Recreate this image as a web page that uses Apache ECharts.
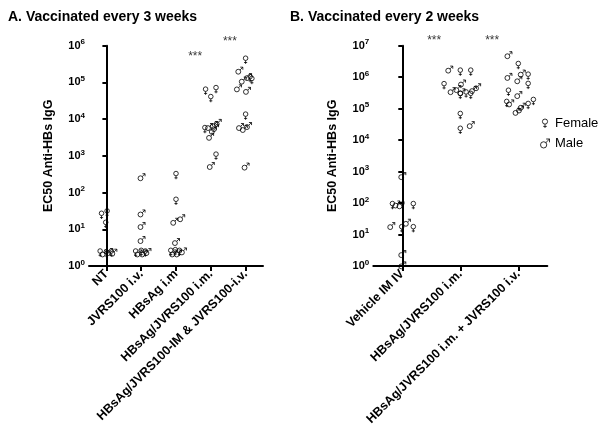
<!DOCTYPE html>
<html><head><meta charset="utf-8">
<script src="https://cdn.jsdelivr.net/npm/echarts@6/dist/echarts.min.js"></script>
<style>html,body{margin:0;padding:0;background:#fff}#c{width:600px;height:437px}</style>
</head><body><div id="c"></div>
<script>
// categories
const catsA = ['NT','JVRS100 i.v.','HBsAg i.m','HBsAg/JVRS100 i.m.','HBsAg/JVRS100-IM & JVRS100-i.v.'];
const catsB = ['Vehicle IM IV','HBsAg/JVRS100 i.m.','HBsAg/JVRS100 i.m. + JVRS100 i.v.'];
// [category index, horizontal spread (category units), EC50]
const femaleA = [
  [0,-0.14,24.5],[0,0.02,28.4],[0,-0.02,13.9],[0,-0.18,2.3],[0,0.0,2.2],[0,0.14,2.3],
  [1,-0.16,2.3],[1,0.0,2.4],[1,0.12,2.3],
  [2,0.0,296],[2,0.0,59],[2,-0.15,2.4],[2,-0.02,2.5],[2,0.1,2.4],
  [3,-0.15,58900],[3,0.15,65000],[3,0.0,37000],[3,-0.17,5300],[3,0.15,1000],
  [4,0.0,410000],[4,0.13,130000],[4,0.18,115000],[4,0.0,12300]
];
const maleA = [
  [0,-0.08,2.2],[0,0.08,2.4],[0,0.2,2.3],
  [1,0.01,262],[1,0.01,27],[1,0.01,12.3],[1,0.01,5.1],[1,-0.08,2.2],[1,0.06,2.2],[1,0.18,2.4],
  [2,-0.05,16],[2,0.15,20],[2,0.0,4.5],[2,-0.08,2.2],[2,0.05,2.2],[2,0.2,2.5],
  [3,-0.05,6100],[3,0.09,6900],[3,0.2,7900],[3,0.12,5700],[3,-0.02,3300],[3,0.06,4800],[3,0.0,530],
  [4,-0.18,209000],[4,0.07,140000],[4,-0.08,112000],[4,-0.22,69000],[4,0.04,59000],[4,-0.16,6100],[4,-0.05,5400],[4,0.07,6500],[4,0.0,510]
];
const femaleB = [
  [0,-0.17,85],[0,0.19,85],[0,-0.01,15.7],[0,0.19,15.7],
  [1,0.0,1.48e6],[1,0.18,1.48e6],[1,-0.28,5.5e5],[1,0.0,2.7e5],[1,0.1,3.0e5],[1,0.18,2.7e5],[1,0.0,6.2e4],[1,0.0,2.1e4],
  [2,0.0,2.4e6],[2,0.17,1.1e6],[2,0.17,5.6e5],[2,-0.17,3.4e5],[2,-0.2,1.5e5],[2,0.17,1.29e5],[2,0.26,1.73e5]
];
const maleB = [
  [0,0.0,720],[0,-0.03,85],[0,-0.1,90],[0,-0.19,18.6],[0,0.08,23.7],[0,0.0,2.4],[0,0.0,1.05],
  [1,-0.19,1.74e6],[1,-0.15,3.6e5],[1,-0.05,4.2e5],[1,0.03,6.3e5],[1,0.02,3.3e5],[1,0.22,3.9e5],[1,0.29,4.8e5],[1,0.18,3.0e4],
  [2,-0.17,5.0e6],[2,-0.17,1.02e6],[2,0.0,8.0e5],[2,0.06,1.3e6],[2,0.0,2.7e5],[2,-0.14,1.47e5],[2,0.06,1.15e5],[2,-0.03,7.9e4],[2,0.03,9.4e4]
];
// significance annotations: [category index, height]
const starsA = [[3,5.0e5],[4,1.3e6]];
const starsB = [[1,1.4e7],[2,1.4e7]];
const yMaxA = 1e6, yMaxB = 1e7;
const titleA = 'A. Vaccinated every 3 weeks';
const titleB = 'B. Vaccinated every 2 weeks';
const yName = 'EC50 Anti-HBs IgG';

const FONT = '"Liberation Sans", Arial, sans-serif';
const femalePath = 'path://M8.2,4A3.2,3.2,0,1,1,1.8,4A3.2,3.2,0,1,1,8.2,4M5,7.2L5,12M2.8,10L7.2,10';
const malePath = 'path://M7.2,8A3.2,3.2,0,1,1,0.8,8A3.2,3.2,0,1,1,7.2,8M6.3,5.7L10,2M6.6,2L10,2L10,5.4';
const pts = arr => arr.map(d => [d[0] + d[1], d[2]]);
const STAR_SHIFT = -0.45;

const chart = echarts.init(document.getElementById('c'), null, {renderer:'canvas'});

function yAxis(gi, max) {
  return {
    type:'log', logBase:10, gridIndex:gi, min:1, max:max, splitNumber: Math.round(Math.log10(max)),
    axisLine:{show:true, lineStyle:{color:'#000', width:2}},
    axisTick:{show:true, length:4, lineStyle:{color:'#000', width:2}},
    splitLine:{show:false}, minorTick:{show:false},
    axisLabel:{margin:4, formatter: v => '{b|10}{s|' + Math.round(Math.log10(v)) + '}',
      rich:{ b:{fontFamily:FONT, fontWeight:'bold', fontSize:11, color:'#000'},
             s:{fontFamily:FONT, fontWeight:'bold', fontSize:8, color:'#000', padding:[0,0,7,0]} }},
    name: yName, nameLocation:'middle', nameGap:34, nameRotate:90,
    nameTextStyle:{fontFamily:FONT, fontWeight:'bold', fontSize:12.5, color:'#000'}
  };
}
function catAxis(gi, cats) {
  return {
    type:'category', gridIndex:gi, data:cats, boundaryGap:true,
    axisLine:{show:true, lineStyle:{color:'#000', width:2}},
    axisTick:{show:true, alignWithLabel:true, length:5, lineStyle:{color:'#000', width:2}},
    axisLabel:{rotate:45, margin:6, interval:0, fontFamily:FONT, fontWeight:'bold', fontSize:12.5, color:'#000'},
    splitLine:{show:false}
  };
}
function valAxis(gi, n) {
  return {type:'value', gridIndex:gi, min:-0.5, max:n-0.5, show:false};
}
const markStyle = {color:'rgba(0,0,0,0)', borderColor:'#000', borderWidth:1};
function scat(name, gi, xi, data, path, size) {
  return {type:'scatter', name, xAxisIndex:xi, yAxisIndex:gi, data:pts(data), symbol:path,
    symbolSize:size, symbolKeepAspect:true, itemStyle:markStyle, clip:false, silent:true, z:3};
}
function stars(gi, xi, data) {
  return {type:'scatter', xAxisIndex:xi, yAxisIndex:gi, symbol:'circle', symbolSize:1, clip:false, silent:true,
    itemStyle:{color:'rgba(0,0,0,0)'},
    data:data.map(d => [d[0] + STAR_SHIFT, d[1]]),
    label:{show:true, formatter:'***', position:'inside', fontFamily:FONT, fontSize:12, color:'#000'}};
}

chart.setOption({
  animation:false,
  backgroundColor:'#fff',
  title:[
    {text:titleA, left:3, top:5, textStyle:{fontFamily:FONT, fontWeight:'bold', fontSize:14, color:'#000'}},
    {text:titleB, left:285, top:5, textStyle:{fontFamily:FONT, fontWeight:'bold', fontSize:14, color:'#000'}}
  ],
  legend:{
    data:[{name:'Female', icon:femalePath},{name:'Male', icon:malePath}],
    orient:'vertical', left:535, top:112, itemWidth:10, itemHeight:9, itemGap:7,
    textStyle:{fontFamily:FONT, fontSize:13, color:'#000'},
    itemStyle:{color:'rgba(0,0,0,0)', borderColor:'#000', borderWidth:1}
  },
  grid:[
    {left:89, top:45.7, width:174, height:220.3},
    {left:373.3, top:45.7, width:174, height:220.3}
  ],
  xAxis:[catAxis(0,catsA), catAxis(1,catsB), valAxis(0,catsA.length), valAxis(1,catsB.length)],
  yAxis:[yAxis(0,yMaxA), yAxis(1,yMaxB)],
  series:[
    scat('Female',0,2,femaleA,femalePath,8),
    scat('Male',0,2,maleA,malePath,7),
    stars(0,2,starsA),
    scat('Female',1,3,femaleB,femalePath,8),
    scat('Male',1,3,maleB,malePath,7),
    stars(1,3,starsB)
  ]
});
</script></body></html>
